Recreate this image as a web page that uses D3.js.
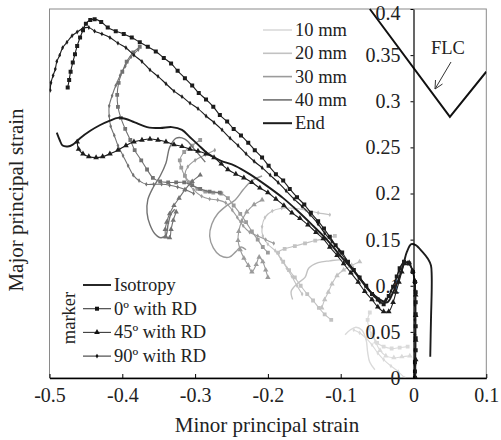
<!DOCTYPE html>
<html><head><meta charset="utf-8">
<script src="https://cdn.jsdelivr.net/npm/d3@7"></script>
<style>
html,body{margin:0;padding:0;background:#fff;}
svg{display:block;font-family:"Liberation Serif","Times New Roman",serif;}
</style></head>
<body>
<svg id="chart" width="501" height="440"></svg>
<script>
// ---------- DATA ----------
const xTicks = [-0.5,-0.4,-0.3,-0.2,-0.1,0,0.1];
const yTicks = [0,0.05,0.1,0.15,0.2,0.25,0.3,0.35,0.4];
const lengthNames = ["10 mm","20 mm","30 mm","40 mm","End"];
const orientNames = ["Isotropy","0º with RD","45º with RD","90º with RD"];
const flc = [[-0.06,0.4],[0.05,0.283],[0.1,0.332]];

// End (black)
const end0 = [[-0.475,0.315],[-0.473,0.323],[-0.471,0.332],[-0.468,0.342],[-0.465,0.351],[-0.462,0.360],[-0.458,0.369],[-0.454,0.377],[-0.450,0.384],[-0.444,0.388],[-0.438,0.389],[-0.429,0.386],[-0.420,0.380],[-0.409,0.376],[-0.398,0.373],[-0.387,0.369],[-0.376,0.364],[-0.365,0.359],[-0.354,0.354],[-0.343,0.347],[-0.333,0.341],[-0.324,0.333],[-0.314,0.325],[-0.304,0.317],[-0.295,0.309],[-0.285,0.302],[-0.275,0.294],[-0.266,0.285],[-0.256,0.278],[-0.247,0.270],[-0.237,0.263],[-0.227,0.255],[-0.218,0.247],[-0.208,0.239],[-0.199,0.230],[-0.189,0.221],[-0.179,0.214],[-0.170,0.205],[-0.160,0.196],[-0.150,0.188],[-0.141,0.179],[-0.131,0.170],[-0.123,0.162],[-0.115,0.153],[-0.107,0.144],[-0.098,0.136],[-0.090,0.126],[-0.082,0.117],[-0.074,0.109],[-0.065,0.100],[-0.057,0.091],[-0.049,0.085],[-0.041,0.080],[-0.034,0.089],[-0.028,0.099],[-0.023,0.110],[-0.019,0.119],[-0.013,0.126],[-0.006,0.124],[-0.001,0.115],[0.002,0.104],[0.003,0.093],[0.003,0.082],[0.003,0.069],[0.003,0.056],[0.003,0.043],[0.003,0.030],[0.002,0.017],[0.002,0.007],[0.002,0.0]];
const end90 = [[-0.499,0.312],[-0.498,0.320],[-0.495,0.328],[-0.492,0.335],[-0.490,0.343],[-0.486,0.350],[-0.482,0.358],[-0.476,0.364],[-0.469,0.371],[-0.462,0.375],[-0.454,0.379],[-0.446,0.380],[-0.438,0.376],[-0.428,0.373],[-0.417,0.369],[-0.406,0.363],[-0.395,0.358],[-0.384,0.350],[-0.373,0.343],[-0.362,0.334],[-0.351,0.327],[-0.340,0.319],[-0.329,0.311],[-0.318,0.305],[-0.307,0.298],[-0.296,0.292],[-0.285,0.284],[-0.274,0.277],[-0.263,0.269],[-0.252,0.260],[-0.241,0.252],[-0.230,0.243],[-0.219,0.235],[-0.208,0.228],[-0.197,0.220],[-0.186,0.212],[-0.175,0.203],[-0.164,0.194],[-0.153,0.186],[-0.142,0.177],[-0.131,0.167],[-0.122,0.157],[-0.112,0.148],[-0.102,0.138],[-0.093,0.128],[-0.083,0.118],[-0.074,0.109],[-0.064,0.099],[-0.054,0.089],[-0.046,0.082],[-0.038,0.085],[-0.031,0.094],[-0.025,0.105],[-0.020,0.116],[-0.014,0.125],[-0.008,0.125],[-0.002,0.117],[0.001,0.106],[0.002,0.095],[0.002,0.079],[0.002,0.063],[0.002,0.047],[0.002,0.030],[0.002,0.014],[0.002,0.0]];
const endIso = [[-0.490,0.266],[-0.486,0.258],[-0.482,0.252],[-0.475,0.251],[-0.468,0.253],[-0.458,0.260],[-0.444,0.268],[-0.431,0.274],[-0.417,0.279],[-0.406,0.282],[-0.396,0.281],[-0.383,0.277],[-0.366,0.272],[-0.348,0.271],[-0.332,0.272],[-0.318,0.269],[-0.307,0.261],[-0.296,0.253],[-0.282,0.243],[-0.266,0.236],[-0.245,0.230],[-0.225,0.221],[-0.201,0.208],[-0.179,0.195],[-0.159,0.181],[-0.138,0.165],[-0.119,0.150],[-0.101,0.133],[-0.080,0.114],[-0.060,0.094],[-0.046,0.085],[-0.036,0.082],[-0.028,0.093],[-0.021,0.106],[-0.014,0.123],[-0.009,0.137],[-0.003,0.145],[0.003,0.144],[0.012,0.137],[0.020,0.129],[0.024,0.122],[0.025,0.111],[0.025,0.095],[0.024,0.063],[0.023,0.023]];
const end45 = [[-0.462,0.256],[-0.460,0.248],[-0.454,0.243],[-0.446,0.240],[-0.436,0.239],[-0.427,0.240],[-0.417,0.243],[-0.406,0.247],[-0.395,0.252],[-0.384,0.256],[-0.373,0.258],[-0.362,0.259],[-0.351,0.258],[-0.340,0.256],[-0.329,0.253],[-0.318,0.251],[-0.307,0.248],[-0.296,0.246],[-0.285,0.243],[-0.274,0.239],[-0.264,0.232],[-0.255,0.226],[-0.244,0.221],[-0.233,0.217],[-0.222,0.212],[-0.211,0.206],[-0.200,0.201],[-0.189,0.194],[-0.178,0.187],[-0.167,0.179],[-0.156,0.173],[-0.145,0.166],[-0.134,0.158],[-0.124,0.151],[-0.115,0.142],[-0.105,0.133],[-0.096,0.124],[-0.086,0.114],[-0.076,0.104],[-0.067,0.094],[-0.057,0.085],[-0.049,0.077],[-0.041,0.072],[-0.034,0.072],[-0.028,0.082],[-0.024,0.093],[-0.020,0.104],[-0.016,0.115],[-0.012,0.124],[-0.006,0.125],[-0.001,0.116],[0.002,0.105],[0.003,0.090],[0.003,0.068],[0.003,0.041],[0.003,0.020],[0.003,0.0]];

// 40 mm
const mm40_0 = [[-0.376,0.359],[-0.385,0.353],[-0.394,0.343],[-0.400,0.332],[-0.405,0.320],[-0.407,0.307],[-0.406,0.294],[-0.402,0.282],[-0.396,0.270],[-0.389,0.258],[-0.383,0.247],[-0.374,0.236],[-0.366,0.226],[-0.358,0.217],[-0.348,0.213],[-0.337,0.212],[-0.326,0.212],[-0.315,0.212],[-0.304,0.209],[-0.293,0.205],[-0.280,0.202],[-0.266,0.201]];
const mm40_90 = [[-0.378,0.356],[-0.388,0.348],[-0.396,0.338],[-0.403,0.328],[-0.409,0.317],[-0.414,0.306],[-0.418,0.295],[-0.418,0.284],[-0.416,0.273],[-0.411,0.263],[-0.406,0.252],[-0.399,0.241],[-0.392,0.230],[-0.385,0.220],[-0.377,0.214],[-0.367,0.210],[-0.357,0.210],[-0.346,0.210],[-0.335,0.209],[-0.324,0.207],[-0.313,0.204],[-0.302,0.200]];
const mm40_iso = [[-0.286,0.234],[-0.300,0.247],[-0.314,0.259],[-0.326,0.260],[-0.335,0.250],[-0.340,0.233],[-0.348,0.219],[-0.358,0.206],[-0.365,0.193],[-0.366,0.179],[-0.362,0.166],[-0.355,0.156],[-0.347,0.152],[-0.340,0.155],[-0.337,0.167],[-0.333,0.178],[-0.328,0.183]];
const mm40_45 = [[-0.293,0.220],[-0.304,0.213],[-0.314,0.204],[-0.322,0.195],[-0.329,0.187],[-0.335,0.178],[-0.339,0.169],[-0.341,0.161],[-0.340,0.153],[-0.335,0.152],[-0.333,0.161],[-0.330,0.171],[-0.326,0.180]];

// 30 mm
const mm30_0 = [[-0.293,0.258],[-0.304,0.252],[-0.315,0.245],[-0.321,0.236],[-0.319,0.228],[-0.314,0.219],[-0.307,0.212],[-0.297,0.205],[-0.286,0.202],[-0.275,0.201],[-0.264,0.200],[-0.255,0.195],[-0.247,0.187],[-0.238,0.178],[-0.230,0.169],[-0.222,0.159],[-0.214,0.150],[-0.207,0.142],[-0.200,0.136]];
const mm30_90 = [[-0.273,0.247],[-0.286,0.242],[-0.300,0.236],[-0.310,0.229],[-0.314,0.220],[-0.310,0.212],[-0.302,0.204],[-0.291,0.197],[-0.280,0.194],[-0.269,0.193],[-0.258,0.190],[-0.249,0.182],[-0.242,0.174],[-0.234,0.165],[-0.225,0.158],[-0.214,0.154],[-0.203,0.150],[-0.192,0.146]];
const mm30_iso = [[-0.208,0.219],[-0.222,0.214],[-0.234,0.204],[-0.245,0.193],[-0.258,0.186],[-0.269,0.178],[-0.277,0.167],[-0.280,0.154],[-0.275,0.141],[-0.266,0.133],[-0.253,0.131],[-0.244,0.137],[-0.237,0.142],[-0.230,0.139]];
const mm30_45 = [[-0.208,0.193],[-0.219,0.188],[-0.229,0.180],[-0.236,0.170],[-0.240,0.159],[-0.241,0.149],[-0.238,0.139],[-0.233,0.130],[-0.227,0.122],[-0.222,0.115],[-0.216,0.123],[-0.212,0.131],[-0.207,0.126],[-0.203,0.117],[-0.200,0.109]];

// 20 mm
const mm20_0 = [[-0.108,0.154],[-0.122,0.151],[-0.135,0.149],[-0.149,0.146],[-0.163,0.143],[-0.177,0.140],[-0.186,0.136],[-0.179,0.126],[-0.171,0.117],[-0.163,0.109],[-0.155,0.100],[-0.146,0.091],[-0.138,0.084],[-0.130,0.076],[-0.122,0.069],[-0.113,0.063]];
const mm20_90 = [[-0.115,0.177],[-0.131,0.179],[-0.148,0.182],[-0.164,0.184],[-0.181,0.184],[-0.194,0.181],[-0.204,0.174],[-0.208,0.164],[-0.207,0.154],[-0.200,0.145],[-0.190,0.138],[-0.182,0.129],[-0.174,0.119],[-0.167,0.110],[-0.160,0.100],[-0.153,0.091]];
const mm20_iso = [[-0.087,0.126],[-0.101,0.128],[-0.115,0.127],[-0.131,0.125],[-0.144,0.119],[-0.149,0.109],[-0.160,0.102],[-0.168,0.094],[-0.166,0.085]];
const mm20_45 = [[-0.074,0.126],[-0.085,0.122],[-0.096,0.117],[-0.105,0.111],[-0.112,0.102],[-0.117,0.093],[-0.122,0.085],[-0.126,0.076]];

// 10 mm
const mm10_0 = [[-0.008,0.034],[-0.019,0.033],[-0.030,0.032],[-0.041,0.034],[-0.050,0.038],[-0.057,0.046],[-0.061,0.054],[-0.063,0.063],[-0.060,0.071]];
const mm10_90 = [[-0.012,0.0],[-0.021,0.007],[-0.031,0.013],[-0.041,0.020],[-0.049,0.027],[-0.057,0.036],[-0.065,0.043],[-0.074,0.049],[-0.082,0.052]];
const mm10_iso = [[-0.094,0.047],[-0.087,0.052],[-0.079,0.055],[-0.071,0.052],[-0.065,0.041],[-0.063,0.028],[-0.060,0.017],[-0.053,0.009]];
const mm10_45 = [[-0.005,0.024],[-0.016,0.023],[-0.027,0.022],[-0.038,0.024],[-0.046,0.030],[-0.052,0.039],[-0.056,0.049]];

// ---------- DRAW ----------
const lenColor = {"10 mm":"#dadada","20 mm":"#c2c2c2","30 mm":"#9b9b9b","40 mm":"#727272","End":"#1c1c1c"};
const series = [
  {len:"10 mm",or:"Isotropy",d:mm10_iso},{len:"10 mm",or:"0º with RD",d:mm10_0},{len:"10 mm",or:"45º with RD",d:mm10_45},{len:"10 mm",or:"90º with RD",d:mm10_90},
  {len:"20 mm",or:"Isotropy",d:mm20_iso},{len:"20 mm",or:"0º with RD",d:mm20_0},{len:"20 mm",or:"45º with RD",d:mm20_45},{len:"20 mm",or:"90º with RD",d:mm20_90},
  {len:"30 mm",or:"Isotropy",d:mm30_iso},{len:"30 mm",or:"0º with RD",d:mm30_0},{len:"30 mm",or:"45º with RD",d:mm30_45},{len:"30 mm",or:"90º with RD",d:mm30_90},
  {len:"40 mm",or:"Isotropy",d:mm40_iso},{len:"40 mm",or:"0º with RD",d:mm40_0},{len:"40 mm",or:"45º with RD",d:mm40_45},{len:"40 mm",or:"90º with RD",d:mm40_90},
  {len:"End",or:"45º with RD",d:end45},{len:"End",or:"Isotropy",d:endIso},{len:"End",or:"90º with RD",d:end90},{len:"End",or:"0º with RD",d:end0}
];

const svg = d3.select("#chart");
const L=49.5, R=486.3, T=9, B=378;
const x = d3.scaleLinear().domain([-0.5,0.1]).range([L,R]);
const y = d3.scaleLinear().domain([0,0.4]).range([B,T]);

const symFor = {"0º with RD":d3.symbolSquare,"45º with RD":d3.symbolTriangle,"90º with RD":d3.symbolDiamond};
const sizeFor = {"0º with RD":16,"45º with RD":14,"90º with RD":7};

// plot frame
svg.append("rect").attr("x",L).attr("y",T).attr("width",R-L).attr("height",B-T)
  .attr("fill","none").attr("stroke","#8a8a8a").attr("stroke-width",1);

svg.append("clipPath").attr("id","pc").append("rect").attr("x",L).attr("y",T-1).attr("width",R-L).attr("height",B-T+1);
const g = svg.append("g").attr("clip-path","url(#pc)");

const line = d3.line().x(d=>x(d[0])).y(d=>y(d[1])).curve(d3.curveCatmullRom.alpha(0.5));

series.forEach(s=>{
  const c = lenColor[s.len];
  const isEnd = s.len==="End";
  g.append("path").datum(s.d).attr("d",line).attr("fill","none").attr("stroke",c)
    .attr("stroke-width", s.or==="Isotropy" ? (isEnd?1.9:1.4) : 1.1).attr("stroke-linejoin","round");
  if(symFor[s.or]){
    const sym = d3.symbol().type(symFor[s.or]).size(sizeFor[s.or]*(isEnd?1:0.9));
    g.selectAll(null).data(s.d).enter().append("path").attr("d",sym)
      .attr("transform",d=>`translate(${x(d[0])},${y(d[1])})`).attr("fill",c);
  }
});

// FLC
g.append("path").datum(flc).attr("d",d3.line().x(d=>x(d[0])).y(d=>y(d[1]))).attr("fill","none").attr("stroke","#111").attr("stroke-width",2);

// axes
const xAxis = d3.axisBottom(x).tickValues(xTicks).tickSize(-4).tickSizeOuter(0).tickFormat(d=>d===0?"0":d3.format(".1f")(d).replace("−","-"));
const gx = svg.append("g").attr("transform",`translate(0,${B})`).call(xAxis);
gx.select(".domain").attr("stroke","#000").attr("stroke-width",1.3);
gx.selectAll(".tick line").attr("stroke","#000");
gx.selectAll("text").attr("font-size",20).attr("fill","#222").attr("dy","1.05em").attr("font-family","Liberation Serif, serif");

const yAxis = d3.axisLeft(y).tickValues(yTicks).tickSize(3).tickSizeOuter(0).tickPadding(10)
  .tickFormat(d=>d===0?"0":String(+d.toFixed(2)));
const gy = svg.append("g").attr("transform",`translate(${x(0)},0)`).call(yAxis);
gy.select(".domain").attr("stroke","#000").attr("stroke-width",1.2);
gy.selectAll(".tick line").attr("stroke","#000");
gy.selectAll("text").attr("font-size",20).attr("fill","#222").attr("font-family","Liberation Serif, serif")
  .attr("dy",d=>d===0.4?"0.5em":"0.32em");

// titles
svg.append("text").attr("x",267).attr("y",432).attr("text-anchor","middle").attr("font-size",21).attr("fill","#222").text("Minor principal strain");
svg.append("text").attr("transform","translate(23,200) rotate(-90)").attr("text-anchor","middle").attr("font-size",21).attr("fill","#222").text("Major principal strain");

// FLC label + arrow
svg.append("text").attr("x",448).attr("y",54).attr("text-anchor","middle").attr("font-size",18.5).attr("fill","#222").text("FLC");
svg.append("line").attr("x1",451).attr("y1",62).attr("x2",435).attr("y2",89).attr("stroke","#333").attr("stroke-width",1);
svg.append("path").attr("d","M435,89 l0.5,-9 M435,89 l7.5,-5").attr("stroke","#333").attr("fill","none").attr("stroke-width",1);

// length legend (top)
const legTop = svg.append("g");
lengthNames.forEach((n,i)=>{
  const yy = 30 + i*23.3;
  legTop.append("line").attr("x1",263).attr("x2",292).attr("y1",yy).attr("y2",yy).attr("stroke",lenColor[n]).attr("stroke-width",n==="End"?2:1.6);
  legTop.append("text").attr("x",295).attr("y",yy+6).attr("font-size",18.5).attr("fill","#222").text(n);
});

// marker legend (bottom left)
const legB = svg.append("g");
orientNames.forEach((n,i)=>{
  const yy = 285 + i*23.7;
  legB.append("line").attr("x1",83).attr("x2",111).attr("y1",yy).attr("y2",yy).attr("stroke",i===0?"#1c1c1c":"#3a3a3a").attr("stroke-width",i===0?1.9:1.1);
  if(symFor[n]) legB.append("path").attr("d",d3.symbol().type(symFor[n]).size(sizeFor[n])).attr("transform",`translate(97,${yy})`).attr("fill","#111");
  legB.append("text").attr("x",114).attr("y",yy+6).attr("font-size",18.5).attr("fill","#222").text(n);
});
svg.append("text").attr("transform","translate(75,318) rotate(-90)").attr("text-anchor","middle").attr("font-size",18.5).attr("fill","#222").text("marker");
</script>
</body></html>
